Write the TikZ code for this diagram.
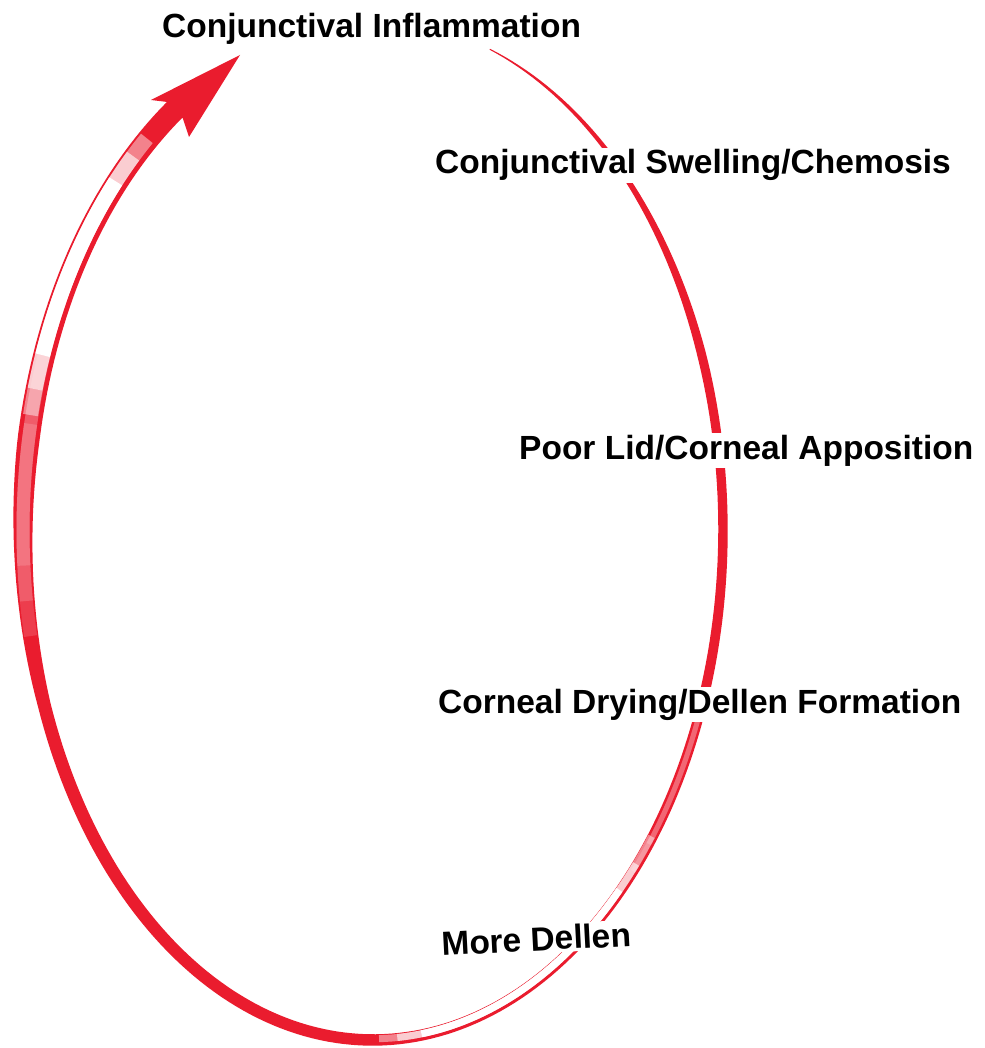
\documentclass[tikz,border=0pt]{standalone}
\usepackage{fontspec}
\setmainfont{Liberation Sans}
\definecolor{ribred}{RGB}{234,28,46}
\definecolor{ribpink}{RGB}{246,140,150}
\begin{document}
\begin{tikzpicture}[x=1pt,y=-1pt,
  declare function={
    cl(\u)=max(0,min(1,\u));
    wd(\t)=1+8*cl((\t-19.5)/50.5)+4*cl((\t-70)/180)+9*cl((\t-250)/30);
    ex(\t)=373+350*sin(\t);
    ey(\t)=530-510*cos(\t);
    nn(\t)=sqrt((0.51*sin(\t))^2+(0.35*cos(\t))^2);
    nx(\t)=0.51*sin(\t)/nn(\t);
    ny(\t)=-0.35*cos(\t)/nn(\t);
  },
  lab/.style={font=\fontsize{33.5}{40}\selectfont\bfseries, fill=white, inner sep=2pt, anchor=base west},
  band/.style={line cap=butt, line join=round}]
\useasboundingbox (0,0) rectangle (984,1048);
\fill[white] (0,0) rectangle (984,1048);
% arrowhead corners
\coordinate (barbL) at (151,100);
\coordinate (tip) at (240,55);
\coordinate (barbR) at (189,137);
% the ribbon: an ellipse-shaped band of varying width ending in the arrowhead
\fill[ribred]
  plot[domain=19.5:325.5, samples=240, variable=\t]
    ({ex(\t)+0.5*wd(\t)*nx(\t)},{ey(\t)+0.5*wd(\t)*ny(\t)})
  -- (barbL) -- (tip) -- (barbR) --
  plot[domain=325.5:19.5, samples=240, variable=\t]
    ({ex(\t)-0.5*wd(\t)*nx(\t)},{ey(\t)-0.5*wd(\t)*ny(\t)})
  -- cycle;
% light parts of the twisted ribbon (soft ends by stacking)
\foreach \s/\e/\o in {258/290/0.3, 262/286/0.4, 266/282/0.5}
  \draw[band, ribpink, line width=13pt, opacity=\o]
    plot[domain=\s:\e, samples=30, variable=\t] ({ex(\t)},{ey(\t)});
\foreach \s/\e/\o in {283/320/0.45, 286/317/0.6, 290/313/1}
  \draw[band, white, line width=15pt, opacity=\o]
    plot[domain=\s:\e, samples=40, variable=\t]
      ({ex(\t)+1.5*nx(\t)},{ey(\t)+1.5*ny(\t)});
\foreach \s/\e/\o in {108/132/0.35, 112/128/0.5}
  \draw[band, ribpink, line width=5pt, opacity=\o]
    plot[domain=\s:\e, samples=20, variable=\t] ({ex(\t)},{ey(\t)});
\foreach \s/\e/\o in {127/179/0.45, 131/176/0.6, 135/172/1}
  \draw[band, white, line width=7pt, opacity=\o]
    plot[domain=\s:\e, samples=50, variable=\t]
      ({ex(\t)-1.25*nx(\t)},{ey(\t)-1.25*ny(\t)});
% labels
\node[lab] (n1) at (160,38) {Conjunctival Inflammation};
\node[lab] (n2) at (433,174) {Conjunctival Swelling/Chemosis};
\node[lab] (n3) at (517,459) {Poor Lid/Corneal Apposition};
\node[lab] (n4) at (436,713) {Corneal Drying/Dellen Formation};
\node[lab, rotate=3] (n5) at (440,956) {More Dellen};
\end{tikzpicture}
\end{document}
